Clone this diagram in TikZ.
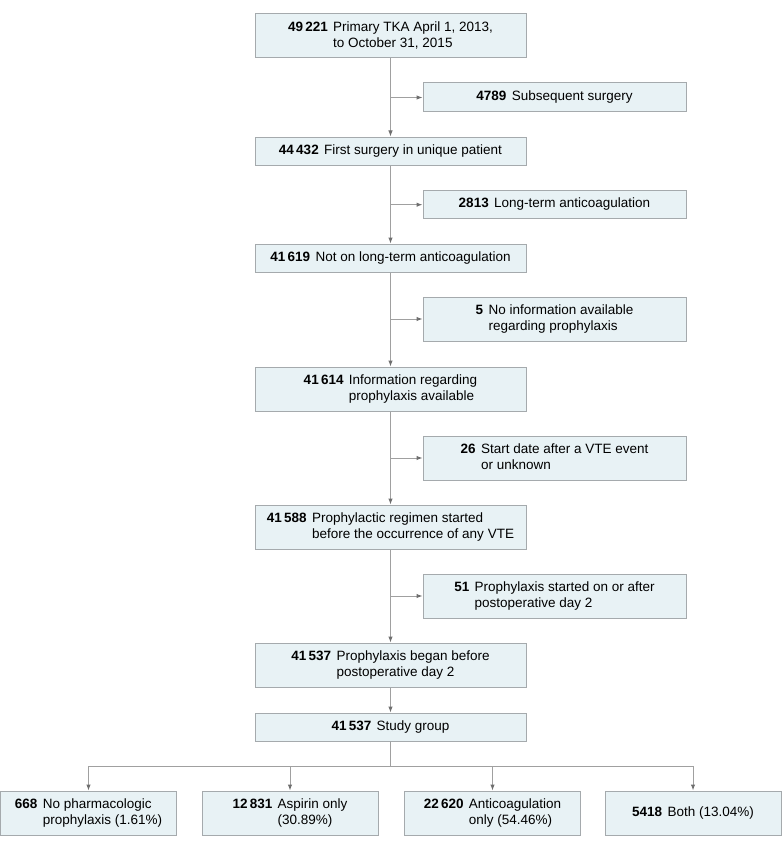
\documentclass[tikz,border=0pt]{standalone}
\usepackage{fontspec}
\setmainfont{Liberation Sans}
\usepackage{tikz}
\usetikzlibrary{arrows.meta,positioning}

\definecolor{boxfill}{RGB}{232,242,245}
\definecolor{boxline}{RGB}{165,170,173}
\definecolor{linegray}{RGB}{160,160,160}
\definecolor{tipgray}{RGB}{110,110,110}

\newcommand{\flowtext}[2]{\textbf{#1}\hspace{0.4em}\begin{tabular}[t]{@{}l@{}}#2\end{tabular}}

\tikzset{
	mainbox/.style={draw=boxline, fill=boxfill, line width=1pt, minimum width=271pt, inner sep=0pt},
	sidebox/.style={draw=boxline, fill=boxfill, line width=1pt, minimum width=263pt, inner sep=0pt},
	groupbox/.style={draw=boxline, fill=boxfill, line width=1pt, minimum width=176pt, minimum height=44pt, inner sep=0pt},
	flow/.style={draw=linegray, line width=1pt, -{Latex[length=6pt,width=4.5pt,color=tipgray]}}
}

\begin{document}
\begin{tikzpicture}[x=1pt,y=-1pt,font=\fontsize{13.5}{16.2}\selectfont]

	\useasboundingbox (0,0) rectangle (783,848);

	% main column
	\node[mainbox, minimum height=44pt] (b1) at (390.5,36) {\flowtext{49\,221}{Primary TKA April 1, 2013,\\to October 31, 2015}};
	\node[mainbox, minimum height=28pt] (b2) at (390.5,151) {\flowtext{44\,432}{First surgery in unique patient}};
	\node[mainbox, minimum height=28pt] (b3) at (390.5,258) {\flowtext{41\,619}{Not on long-term anticoagulation}};
	\node[mainbox, minimum height=44pt] (b4) at (390.5,389) {\flowtext{41\,614}{Information regarding\\prophylaxis available}};
	\node[mainbox, minimum height=44pt] (b5) at (390.5,527) {\flowtext{41\,588}{Prophylactic regimen started\\before the occurrence of any VTE}};
	\node[mainbox, minimum height=44pt] (b6) at (390.5,665) {\flowtext{41\,537}{Prophylaxis began before\\postoperative day 2}};
	\node[mainbox, minimum height=28pt] (b7) at (390.5,727) {\flowtext{41\,537}{Study group}};

	% exclusions
	\node[sidebox, minimum height=29pt] (s1) at (554.5,97.5) {\flowtext{4789}{Subsequent surgery}};
	\node[sidebox, minimum height=28pt] (s2) at (554.5,204.7) {\flowtext{2813}{Long-term anticoagulation}};
	\node[sidebox, minimum height=44pt] (s3) at (554.5,319) {\flowtext{5}{No information available\\regarding prophylaxis}};
	\node[sidebox, minimum height=44pt] (s4) at (554.5,458) {\flowtext{26}{Start date after a VTE event\\or unknown}};
	\node[sidebox, minimum height=44pt] (s5) at (554.5,596) {\flowtext{51}{Prophylaxis started on or after\\postoperative day 2}};

	% groups
	\node[groupbox] (c1) at (88.5,813) {\flowtext{668}{No pharmacologic\\prophylaxis (1.61\%)}};
	\node[groupbox] (c2) at (290,813) {\flowtext{12\,831}{Aspirin only\\(30.89\%)}};
	\node[groupbox] (c3) at (492.5,813) {\flowtext{22\,620}{Anticoagulation\\only (54.46\%)}};
	\node[groupbox] (c4) at (693,813) {\flowtext{5418}{Both (13.04\%)}};

	% arrows
	\foreach \a/\b/\s in {b1/b2/s1, b2/b3/s2, b3/b4/s3, b4/b5/s4, b5/b6/s5}{
		\draw[flow] (\a.south) -- (\b.north);
		\draw[flow] (\a.south |- \s.west) -- (\s.west);
	}
	\draw[flow] (b6.south) -- (b7.north);

	\coordinate (split) at (390.5,766);
	\foreach \c in {c1,c2,c3,c4}
		\draw[flow] (b7.south) -- (split) -| (\c.north);

\end{tikzpicture}
\end{document}
